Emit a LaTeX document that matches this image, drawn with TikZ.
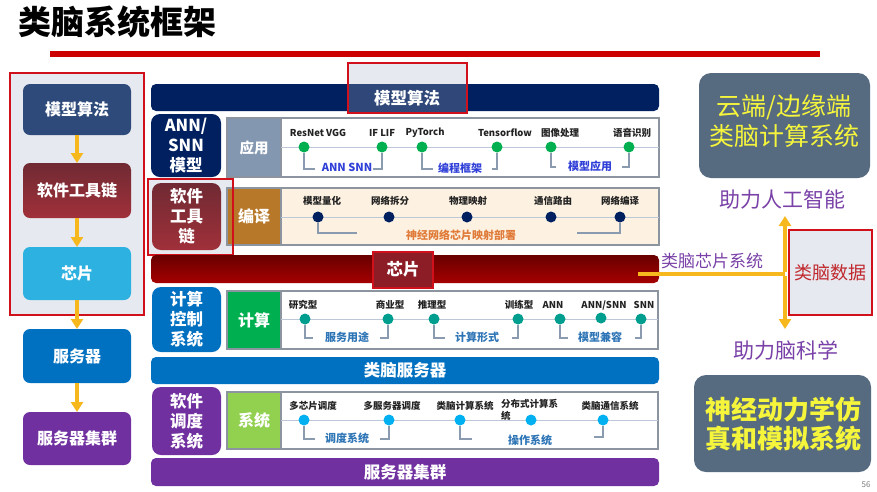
\documentclass[tikz,border=0pt]{standalone}
\usepackage{fontspec}
\setmainfont{Noto Sans CJK SC}
\usetikzlibrary{fit,arrows.meta}
\definecolor{navy}{HTML}{002060}
\definecolor{lnavy}{HTML}{2E4A7A}
\definecolor{hlnavy}{HTML}{2F4879}
\definecolor{bgGray}{HTML}{E6E9EF}
\definecolor{frameRed}{HTML}{D0101A}
\definecolor{titleRed}{HTML}{CC0000}
\definecolor{redTop}{HTML}{702A33}
\definecolor{redBot}{HTML}{A0303A}
\definecolor{chipTop}{HTML}{680000}
\definecolor{chipBot}{HTML}{A60000}
\definecolor{chipHL}{HTML}{8C1C26}
\definecolor{cyanB}{HTML}{2CB1E1}
\definecolor{blueB}{HTML}{0070C0}
\definecolor{purpleB}{HTML}{7030A0}
\definecolor{gold}{HTML}{F6B81C}
\definecolor{frameGray}{HTML}{8C959F}
\definecolor{appCell}{HTML}{8497B0}
\definecolor{cmpCell}{HTML}{B7782A}
\definecolor{peach}{HTML}{FDF1E1}
\definecolor{greenCell}{HTML}{00B050}
\definecolor{lgreenCell}{HTML}{92D050}
\definecolor{dotGreen}{HTML}{00B050}
\definecolor{dotTeal}{HTML}{009E8E}
\definecolor{dotBlue}{HTML}{00B0F0}
\definecolor{lineGray}{HTML}{BCC8D8}
\definecolor{brkGray}{HTML}{8A9BB0}
\definecolor{labelBlack}{HTML}{222222}
\definecolor{blA}{HTML}{2F3FD8}
\definecolor{blB}{HTML}{2E75B6}
\definecolor{orangeT}{HTML}{E07B39}
\definecolor{slate}{HTML}{566A80}
\definecolor{yellowT}{HTML}{F5F53C}
\definecolor{purpleT}{HTML}{7A42A8}
\definecolor{dataRed}{HTML}{C0282D}
\tikzset{
  every node/.style={inner sep=0pt, outer sep=0pt},
  fitbox/.style={inner sep=0pt, outer sep=0pt},
  lbox/.style={fitbox, rounded corners=7pt},
  bar/.style={fitbox, rounded corners=5pt},
  sbox/.style={fitbox, rounded corners=9pt},
  rowframe/.style={fitbox, draw=frameGray, line width=1.8pt},
  cell/.style={fitbox, draw=frameGray, line width=1.8pt},
  wt/.style={text=white, align=center, font=\fontsize{16}{20}\selectfont\bfseries},
  wtb/.style={text=white, align=center, font=\fontsize{16.5}{20}\selectfont\bfseries},
  tl/.style={font=\fontsize{9.5}{11}\selectfont\bfseries, text=labelBlack},
  dotn/.style={circle, minimum size=11pt, inner sep=0pt},
  brk/.style={draw=brkGray, line width=1.2pt},
  hline/.style={draw=lineGray, line width=1pt},
  bl/.style={font=\fontsize{11}{13}\selectfont\bfseries},
  garrow/.style={draw=gold, line width=4pt, -{Triangle[width=12pt,length=10pt]}},
  gline/.style={draw=gold, line width=4pt},
  hl/.style={fitbox, draw=frameRed, line width=2pt},
  bigbox/.style={fitbox, rounded corners=12pt, fill=slate},
  yt/.style={align=center, text=yellowT},
  side/.style={text=purpleT, font=\fontsize{21}{24}\selectfont},
}
\begin{document}
\begin{tikzpicture}[x=1pt,y=-1pt]
\useasboundingbox (0,0) rectangle (877,491);
\fill[white] (0,0) rectangle (877,491);
% title
\node[anchor=west, font=\fontsize{33}{36}\selectfont\bfseries] (title) at (18,22) {类脑系统框架};
\fill[titleRed] (50,51) rectangle (820,57);

% ---------- left column ----------
\node[hl, fill=bgGray, fit={(10,73)(144,315)}] (leftframe) {};
\node[lbox, fill=lnavy, fit={(23,84)(131,135)}] (L1) {};
\node[wt] (L1t) at (L1.center) {模型算法};
\node[lbox, top color=redTop, bottom color=redBot, fit={(23,163)(131,218)}] (L2) {};
\node[wt] (L2t) at (L2.center) {软件工具链};
\node[lbox, fill=cyanB, fit={(23,247)(131,300)}] (L3) {};
\node[wt] (L3t) at (L3.center) {芯片};
\node[lbox, fill=blueB, fit={(23,329)(131,383)}] (L4) {};
\node[wt] (L4t) at (L4.center) {服务器};
\node[lbox, fill=purpleB, fit={(23,412)(131,465)}] (L5) {};
\node[wt] (L5t) at (L5.center) {服务器集群};
\draw[garrow] (L1) -- (L2);
\draw[garrow] (L2) -- (L3);
\draw[garrow] (L3) -- (L4);
\draw[garrow] (L4) -- (L5);

% ---------- row 0: model algorithm bar ----------
\node[bar, fill=navy, fit={(151,84)(659,111)}] (B1) {};
\fill[bgGray] (348,63) rectangle (467,84);
\fill[hlnavy] (348,84) rectangle (467,112);
\node[hl, fit={(348,63)(467,113)}] (B1hl) {};
\node[wtb] (B1t) at (407,98) {模型算法};

% ---------- row 1: application ----------
\node[sbox, fill=navy, fit={(151,114)(221,177)}] (S1) {};
\node[wtb] (S1t) at (S1.center) {ANN/\\SNN\\模型};
\node[rowframe, fill=white, fit={(227,118)(659,177)}] (F1) {};
\node[cell, fill=appCell, fit={(227,118)(281,177)}] (C1) {};
\node[wt, font=\fontsize{14.5}{18}\selectfont\bfseries] (C1t) at (C1.center) {应用};
\coordinate (h1) at (300,147);
\draw[hline] (C1.east |- h1) -- (F1.east |- h1);
\node[dotn, fill=dotGreen] (d11) at (304,147) {};
\node[dotn, fill=dotGreen] (d12) at (382,147) {};
\node[dotn, fill=dotGreen] (d13) at (422,147) {};
\node[dotn, fill=dotGreen] (d14) at (497,147) {};
\node[dotn, fill=dotGreen] (d15) at (551,147) {};
\node[dotn, fill=dotGreen] (d16) at (629,147) {};
\node[tl] (t11) at (318,133) {ResNet VGG};
\node[tl] (t12) at (382,133) {IF LIF};
\node[tl] (t13) at (425,133) {PyTorch};
\node[tl] (t14) at (505,133) {Tensorflow};
\node[tl] (t15) at (560,133) {图像处理};
\node[tl] (t16) at (632,133) {语音识别};
\coordinate (e11) at (315,169);
\coordinate (e12) at (373,169);
\coordinate (e13) at (433,169);
\coordinate (e14) at (492,169);
\coordinate (e15) at (556,167);
\coordinate (e16) at (622,167);
\draw[brk] (d11) |- (e11);
\draw[brk] (d12) |- (e12);
\draw[brk] (d13) |- (e13);
\draw[brk] (d14) |- (e14);
\draw[brk] (d15) |- (e15);
\draw[brk] (d16) |- (e16);
\node[bl, text=blA] (k11) at (347,167) {ANN SNN};
\node[bl, text=blA] (k12) at (460,168) {编程框架};
\node[bl, text=blA] (k13) at (590,166) {模型应用};

% ---------- row 2: compile ----------
\node[fitbox, fill=bgGray, fit={(148,179)(233,255)}] (S2bg) {};
\node[sbox, top color=redTop, bottom color=redBot, fit={(152,183)(221,250)}] (S2) {};
\node[wtb] (S2t) at (S2.center) {软件\\工具\\链};
\node[rowframe, fill=peach, fit={(227,188)(659,245)}] (F2) {};
\node[cell, fill=cmpCell, fit={(227,188)(281,245)}] (C2) {};
\node[wt] (C2t) at (C2.center) {编译};
\node[hl, fit={(148,179)(233,255)}] (S2hl) {};
\coordinate (h2) at (300,217);
\draw[hline] (C2.east |- h2) -- (F2.east |- h2);
\node[dotn, fill=navy] (d21) at (318,217) {};
\node[dotn, fill=navy] (d22) at (389,217) {};
\node[dotn, fill=navy] (d23) at (467,217) {};
\node[dotn, fill=navy] (d24) at (551,217) {};
\node[dotn, fill=navy] (d25) at (620,217) {};
\node[tl] (t21) at (322,201) {模型量化};
\node[tl] (t22) at (390,201) {网络拆分};
\node[tl] (t23) at (468,201) {物理映射};
\node[tl] (t24) at (553,201) {通信路由};
\node[tl] (t25) at (620,201) {网络编译};
\coordinate (e21) at (357,233);
\coordinate (e25) at (577,233);
\draw[brk] (d21) |- (e21);
\draw[brk] (d25) |- (e25);
\node[bl, text=orangeT] (k21) at (461,235) {神经网络芯片映射部署};

% ---------- chip bar ----------
\node[bar, top color=chipTop, bottom color=chipBot, fit={(151,255)(659,283)}] (B3) {};
\fill[chipHL] (373,252) rectangle (433,288);
\node[hl, fit={(373,252)(433,288)}] (B3hl) {};
\node[wtb] (B3t) at (403,269) {芯片};

% ---------- row 3: compute ----------
\node[sbox, fill=blueB, fit={(152,287)(221,352)}] (S3) {};
\node[wtb] (S3t) at (S3.center) {计算\\控制\\系统};
\node[rowframe, fill=white, fit={(227,291)(658,349)}] (F3) {};
\node[cell, fill=greenCell, fit={(227,291)(281,349)}] (C3) {};
\node[wt] (C3t) at (C3.center) {计算};
\coordinate (h3) at (300,319);
\draw[hline] (C3.east |- h3) -- (F3.east |- h3);
\node[dotn, fill=dotTeal] (d31) at (305,319) {};
\node[dotn, fill=dotTeal] (d32) at (388,319) {};
\node[dotn, fill=dotTeal] (d33) at (434,319) {};
\node[dotn, fill=dotTeal] (d34) at (518,319) {};
\node[dotn, fill=dotTeal] (d35) at (560,319) {};
\node[dotn, fill=dotTeal] (d36) at (601,318) {};
\node[dotn, fill=dotTeal] (d37) at (641,319) {};
\node[tl] (t31) at (303,305) {研究型};
\node[tl] (t32) at (390,305) {商业型};
\node[tl] (t33) at (432,305) {推理型};
\node[tl] (t34) at (519,305) {训练型};
\node[tl] (t35) at (553,305) {ANN};
\node[tl] (t36) at (604,305) {ANN/SNN};
\node[tl] (t37) at (644,305) {SNN};
\coordinate (e31) at (313,338);
\coordinate (e32) at (380,338);
\coordinate (e33) at (445,338);
\coordinate (e34) at (512,338);
\coordinate (e35) at (568,338);
\coordinate (e37) at (635,338);
\draw[brk] (d31) |- (e31);
\draw[brk] (d32) |- (e32);
\draw[brk] (d33) |- (e33);
\draw[brk] (d34) |- (e34);
\draw[brk] (d35) |- (e35);
\draw[brk] (d37) |- (e37);
\node[bl, text=blB] (k31) at (347,337) {服务用途};
\node[bl, text=blB] (k32) at (477,337) {计算形式};
\node[bl, text=blB] (k33) at (600,337) {模型兼容};

% ---------- server bar ----------
\node[bar, fill=blueB, fit={(151,357)(659,384)}] (B4) {};
\node[wtb] (B4t) at (B4.center) {类脑服务器};

% ---------- row 4: scheduling ----------
\node[sbox, fill=purpleB, fit={(152,387)(221,455)}] (S4) {};
\node[wtb] (S4t) at (S4.center) {软件\\调度\\系统};
\node[rowframe, fill=white, fit={(227,392)(658,449)}] (F4) {};
\node[cell, fill=lgreenCell, fit={(227,392)(281,449)}] (C4) {};
\node[wt] (C4t) at (C4.center) {系统};
\coordinate (h4) at (300,420);
\draw[hline] (C4.east |- h4) -- (F4.east |- h4);
\node[tl, anchor=north west, align=left, font=\fontsize{9.5}{12}\selectfont\bfseries] (t44) at (501,399) {分布式计算系\\统};
\node[dotn, fill=dotBlue] (d41) at (304,420) {};
\node[dotn, fill=dotBlue] (d42) at (389,420) {};
\node[dotn, fill=dotBlue] (d43) at (460,420) {};
\node[dotn, fill=dotBlue] (d44) at (531,420) {};
\node[dotn, fill=dotBlue] (d45) at (603,420) {};
\node[tl] (t41) at (313,406) {多芯片调度};
\node[tl] (t42) at (392,406) {多服务器调度};
\node[tl] (t43) at (465,406) {类脑计算系统};
\node[tl] (t45) at (610,406) {类脑通信系统};
\coordinate (e41) at (315,439);
\coordinate (e42) at (380,439);
\coordinate (e43) at (472,439);
\coordinate (e45) at (594,437);
\draw[brk] (d41) |- (e41);
\draw[brk] (d42) |- (e42);
\draw[brk] (d43) |- (e43);
\draw[brk] (d45) |- (e45);
\node[bl, text=blB] (k41) at (347,438) {调度系统};
\node[bl, text=blB] (k42) at (530,440) {操作系统};

% ---------- cluster bar ----------
\node[bar, fill=purpleB, fit={(151,458)(659,486)}] (B5) {};
\node[wtb] (B5t) at (B5.center) {服务器集群};

% ---------- right side ----------
\node[bigbox, fit={(699,73)(870,178)}] (RT) {};
\node[yt, font=\fontsize{25}{30}\selectfont] (RTt) at (784,121) {云端/边缘端\\类脑计算系统};
\node[side] (AI) at (782,200) {助力人工智能};
\node[hl, fill=bgGray, fit={(789,230)(872,315)}] (BD) {};
\node[text=dataRed, font=\fontsize{18}{20}\selectfont] (BDt) at (BD.center) {类脑数据};
\node[side] (BS) at (786,350) {助力脑科学};
\node[bigbox, fit={(694,375)(871,472)}] (RB) {};
\node[yt, font=\fontsize{26}{29}\selectfont\bfseries] (RBt) at (783,424) {神经动力学仿\\真和模拟系统};
\node[text=purpleT, font=\fontsize{17}{20}\selectfont] (CS) at (712,261) {类脑芯片系统};
\coordinate (cs0) at (638,274);
\coordinate (jc) at (785,274);
\coordinate (up) at (785,216);
\coordinate (dn) at (785,329);
\draw[gline] (cs0) -- (jc);
\draw[garrow] ([yshift=2pt]jc) -- (up);
\draw[garrow] ([yshift=-2pt]jc) -- (dn);
\node[text=gray, font=\fontsize{8}{9}\selectfont] (pg) at (866,485) {56};
\end{tikzpicture}
\end{document}
